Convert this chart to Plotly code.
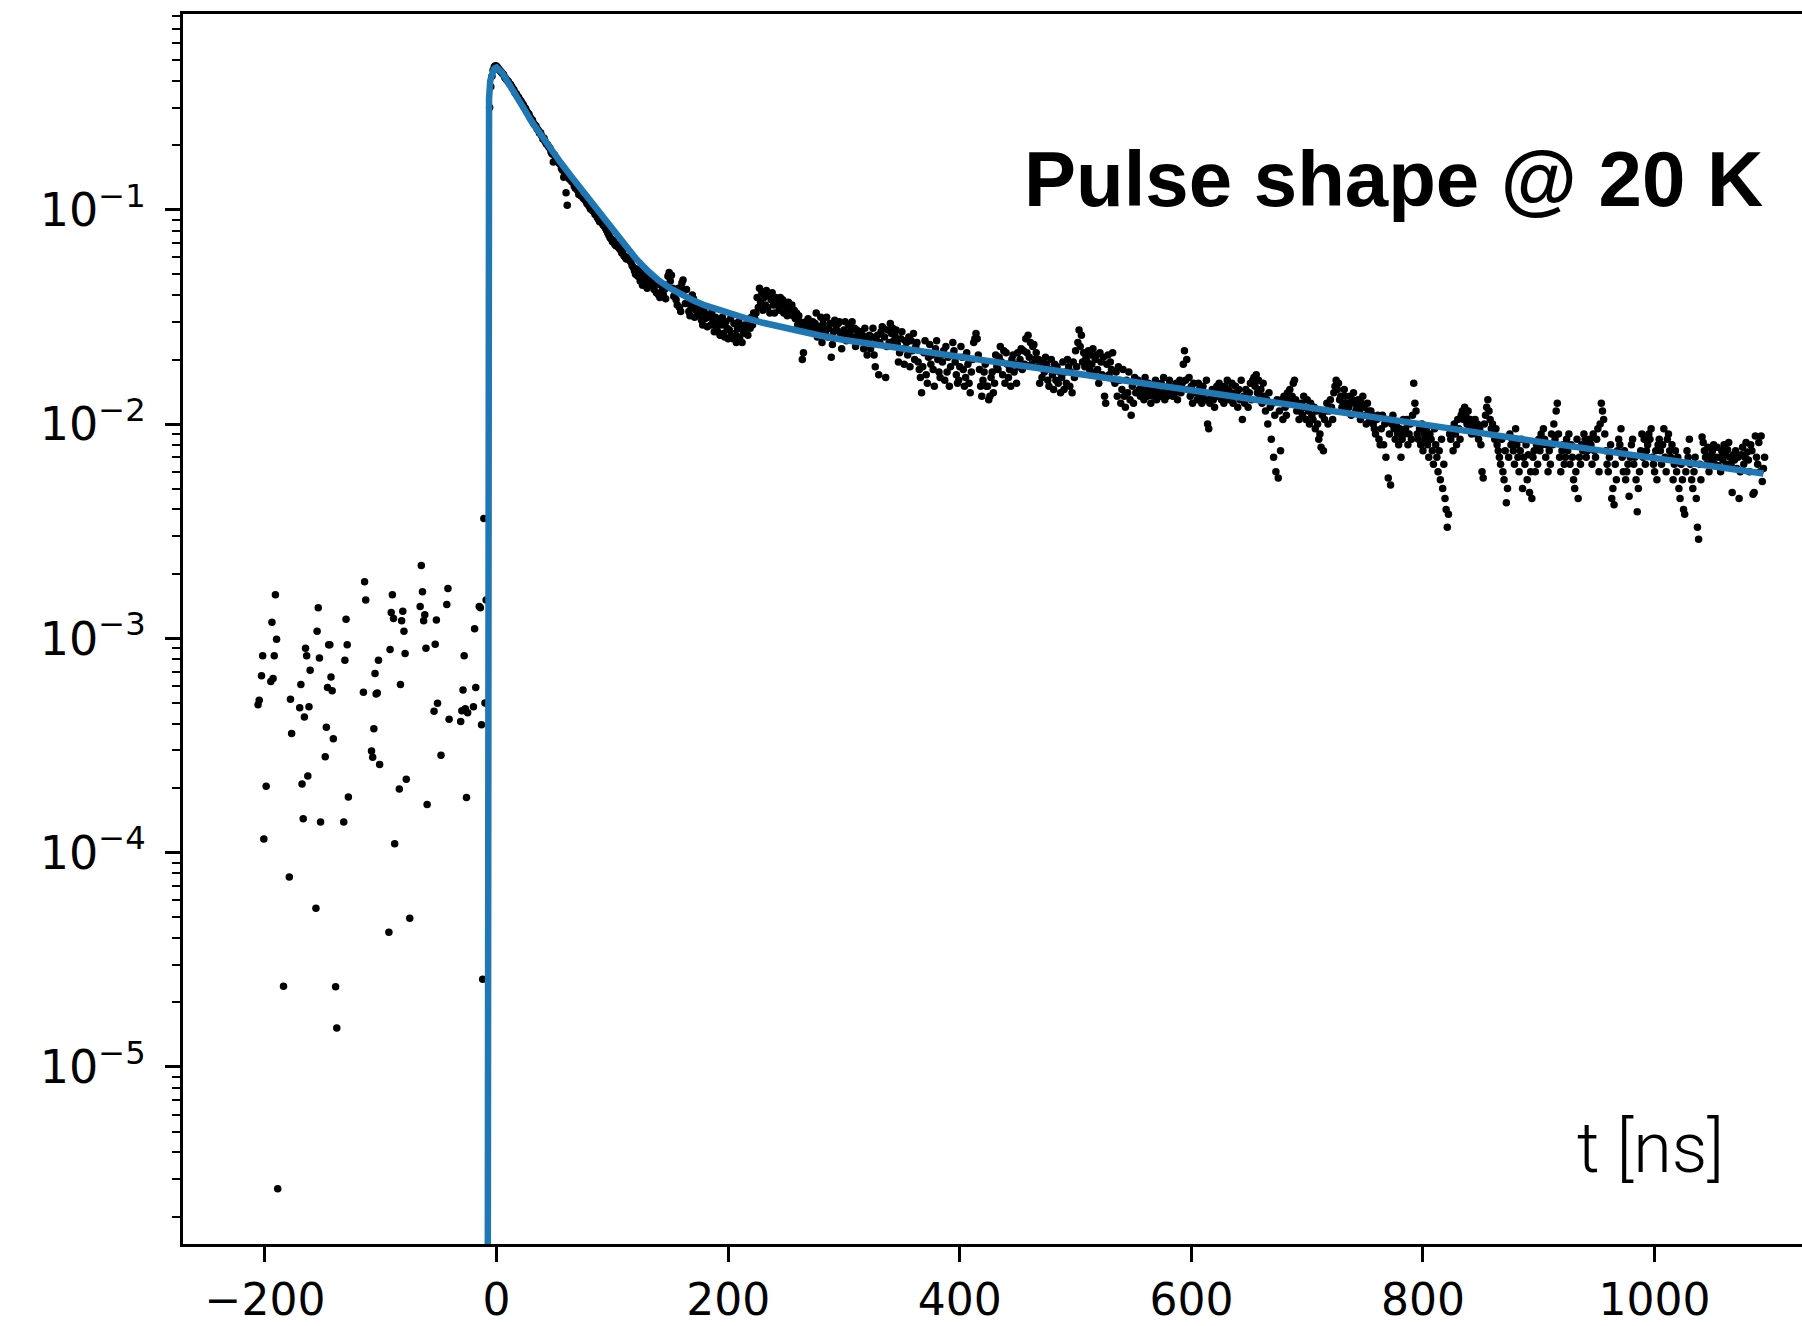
import numpy as np
import plotly.graph_objects as go

# ---------------- data ----------------
# Pre-trigger samples that are positive (visible on the log axis)
pre_t = [-206, -205, -203, -202, -201, -199, -195, -194, -193, -192, -191, -190, -189,
         -184, -179, -178, -177, -170, -169, -168, -167, -166, -165, -164, -163, -162,
         -161, -156, -155, -154, -153, -152, -148, -147, -146, -145, -144, -143, -142,
         -141, -139, -138, -132, -131, -130, -129, -128, -115, -114, -113, -108, -107,
         -106, -105, -104, -103, -102, -101, -93, -92, -91, -90, -89, -88, -84, -83,
         -82, -81, -80, -79, -78, -75, -66, -65, -64, -63, -62, -61, -60, -54, -53,
         -52, -51, -48, -43, -42, -41, -31, -30, -29, -28, -27, -26, -25, -20, -19,
         -18, -15, -14, -13, -12, -11, -10, -9]
pre_v = [4.9e-4, 5.15e-4, 6.7e-4, 8.3e-4, 1.16e-4, 2.04e-4, 6.3e-4, 1.19e-3, 6.5e-4, 8.3e-4,
         1.6e-3, 9.9e-4, 2.7e-6, 2.38e-5, 7.7e-5, 5.2e-4, 3.6e-4, 4.75e-4, 6.1e-4, 2.09e-4,
         1.44e-4, 4.3e-4, 9.0e-4, 8.3e-4, 2.28e-4, 4.8e-4, 7.1e-4, 5.5e-5, 1.08e-3, 1.39e-3,
         8.1e-4, 1.39e-4, 2.8e-4, 3.85e-4, 5.9e-4, 9.35e-4, 9.35e-4, 6.6e-4, 5.7e-4, 3.4e-4,
         2.37e-5, 1.52e-5, 1.39e-4, 7.9e-4, 1.23e-3, 9.35e-4, 1.82e-4, 5.6e-4, 1.84e-3, 1.51e-3,
         2.98e-4, 2.79e-4, 3.79e-4, 6.85e-4, 5.5e-4, 5.56e-4, 7.9e-4, 2.58e-4, 4.25e-5, 8.87e-4,
         1.32e-3, 1.6e-3, 1.24e-3, 1.10e-4, 1.98e-4, 6.1e-4, 1.21e-3, 1.34e-3, 1.08e-3, 8.5e-4,
         2.2e-4, 4.95e-5, 1.41e-3, 2.19e-3, 1.65e-3, 1.21e-3, 1.29e-3, 9.0e-4, 1.68e-4, 4.57e-4,
         9.4e-4, 1.22e-3, 4.98e-4, 2.85e-4, 1.44e-3, 1.71e-3, 4.2e-4, 4.1e-4, 4.6e-4, 5.75e-4,
         8.3e-4, 4.7e-4, 1.81e-4, 4.5e-4, 4.8e-4, 1.11e-3, 5.9e-4, 1.41e-3, 1.39e-3, 3.95e-4,
         2.57e-5, 3.63e-3, 5.0e-4, 1.51e-3]

# Post-trigger samples, 1 ns sampling starting at t = -6 ns, values in units of 1e-5
post_t0 = -6
post_dt = 1
post_v_1e5 = [
    30000, 37500, 42000, 44800, 46500, 47000, 46800, 46000, 45300, 44600,
    44000, 43200, 42800, 41500, 40900, 40200, 39800, 38900, 38400, 37600,
    36800, 36200, 35100, 34800, 33900, 33500, 32600, 32200, 31400, 30900,
    30100, 29700, 28800, 28300, 27900, 27000, 26500, 26200, 25300, 24900,
    24600, 23900, 23500, 22800, 22900, 22100, 21400, 21600, 20800, 20300,
    20100, 19700, 19400, 18600, 18200, 16700, 18000, 17400, 17100, 16900,
    16500, 16300, 15600, 15300, 14200, 14700, 12000, 10500, 14300, 13900,
    13900, 13500, 13600, 12900, 12600, 12700, 12300, 11800, 12000, 11600,
    11800, 11300, 11500, 11000, 10700, 10600, 10400, 10100, 10200, 9900,
    9800, 9500, 9600, 9200, 9000, 8800, 9100, 8700, 8500, 8400,
    8200, 8000, 7800, 7600, 7400, 7300, 7100, 7200, 6900, 6800,
    6900, 6700, 6600, 6500, 6300, 6400, 6100, 6000, 5900, 6000,
    5900, 5800, 5700, 5500, 5400, 5200, 5000, 5300, 4900, 5100,
    4650, 5150, 4450, 4900, 5300, 4600, 4300, 4800, 5000, 4500,
    4850, 4450, 4250, 4700, 4100, 4500, 4000, 3900, 4450, 4200,
    4000, 4250, 3850, 4450, 4900, 5100, 4650, 4950, 4300, 3950,
    4000, 3800, 3600, 4300, 3500, 3350, 4550, 4700, 4250, 3650,
    4250, 3650, 3350, 3200, 3550, 4000, 3850, 3150, 3400, 3600,
    3450, 3250, 3600, 3050, 2900, 3400, 3100, 3250, 2850, 3150,
    3200, 2900, 3350, 3000, 2700, 3150, 2850, 2700, 3000, 2600,
    2900, 3150, 2650, 2550, 3000, 2800, 2500, 2750, 3100, 2650,
    2500, 2950, 2650, 2400, 2800, 3000, 2550, 2800, 2400, 2700,
    2900, 2650, 2850, 2600, 3050, 2800, 3150, 2900, 3300, 3100,
    3300, 3900, 3500, 4300, 3700, 4100, 3400, 3900, 3600, 4200,
    3500, 4000, 3300, 3800, 4100, 3600, 3300, 3900, 3600, 3800,
    3400, 3900, 3600, 3800, 3300, 3700, 3500, 3200, 3700, 3400,
    3500, 3600, 3200, 3400, 3100, 3300, 2900, 3200, 3000, 2800,
    2000, 2150, 2900, 3000, 2800, 3100, 2700, 2950, 2850, 3000,
    2750, 2950, 3300, 2550, 2850, 2650, 3150, 2400, 2950, 2750,
    2700, 3150, 2550, 2800, 2950, 2050, 2350, 2700, 3050, 2900,
    2740, 2950, 3000, 2650, 2250, 2550, 2750, 3000, 2450, 2650,
    2900, 2600, 2750, 3000, 2550, 2800, 2300, 2750, 2600, 2450,
    2700, 2500, 2600, 2250, 2800, 2400, 2100, 2500, 2600, 2250,
    2550, 2800, 2100, 1850, 2450, 2600, 1700, 2400, 2700, 2850,
    2800, 2550, 1650, 2300, 2750, 2400, 2950, 2650, 2800, 2450,
    2600, 2750, 2350, 1950, 2150, 2500, 2700, 2250, 1900, 2450,
    2400, 2100, 2550, 1850, 2450, 2200, 2650, 2000, 2300, 2400,
    1950, 1800, 1650, 1400, 1850, 2150, 2450, 1700, 1550, 2050,
    2350, 1900, 2100, 1800, 1500, 2250, 2450, 2000, 1750, 1650,
    2100, 1950, 2200, 1600, 2300, 1750, 2050, 1500, 1850, 2100,
    2400, 2200, 1950, 1700, 1550, 1600, 1850, 2300, 2050, 1800,
    1500, 1650, 2150, 1900, 1550, 1400, 1750, 2000, 2400, 2500,
    2650, 2500, 2100, 1800, 1500, 1350, 1600, 1750, 1900, 1500,
    1500, 1300, 1350, 1650, 1750, 1400, 1550, 2100, 1850, 1800,
    2050, 2300, 1950, 1700, 2200, 1550, 2150, 1900, 1650, 1800,
    1500, 2000, 2100, 1750, 1900, 1550, 2150, 1850, 2000, 2250,
    1800, 2200, 1900, 2500, 2150, 2600, 2050, 2400, 1900, 2300,
    2350, 2000, 2150, 1850, 2000, 1550, 1850, 1650, 1950, 1750,
    2050, 1900, 1600, 1500, 1800, 2000, 1700, 1450, 1900, 1600,
    1850, 1550, 1750, 1400, 1650, 1950, 1450, 1750, 1550, 2000,
    1850, 1500, 1750, 1400, 1950, 1650, 2200, 1850, 2400, 2750,
    2300, 2600, 1950, 2150, 1850, 2050, 1950, 2200, 1800, 2100,
    1900, 2250, 1750, 2000, 2100, 1800, 1550, 2150, 1950, 1700,
    2050, 1350, 1250, 1900, 2100, 1700, 1950, 1800, 2150, 1600,
    1550, 1750, 1350, 1850, 1600, 1250, 1450, 1800, 1350, 1200,
    1600, 1400, 1750, 1300, 1100, 1500, 1250, 1650, 1400, 1600,
    1600, 1450, 1350, 1500, 1400, 1300, 1650, 1450, 1350, 1550,
    1400, 1250, 1500, 1350, 1450, 1600, 1300, 1400, 1500, 1350,
    1550, 1400, 1650, 1300, 1450, 1350, 1500, 1600, 1400, 1450,
    1350, 1500, 1400, 1550, 1300, 1450, 1600, 1400, 1550, 1900,
    2200, 1600, 2000, 1450, 1650, 1350, 1500, 1250, 1550, 1400,
    1400, 1300, 1550, 1450, 1350, 1250, 1500, 1400, 1300, 1600,
    1000, 950, 1250, 1350, 1450, 1300, 1200, 1400, 1500, 1350,
    1550, 1450, 1300, 1400, 1250, 1500, 1350, 1600, 1450, 1300,
    1400, 1550, 1250, 1350, 1500, 1400, 1200, 1450, 1300, 1600,
    1050, 1350, 1250, 1450, 1350, 1200, 1400, 1550, 1300, 1600,
    1650, 1500, 1700, 1400, 1600, 1350, 1450, 1250, 1550, 1350,
    1150, 1300, 1000, 1400, 1200, 850, 1250, 700, 1100, 600,
    1300, 560, 1150, 750, 1300, 1050, 1350, 1200, 1100, 1400,
    1300, 1450, 1250, 1350, 1550, 1600, 1300, 1150, 1250, 1050,
    1150, 1250, 1100, 1350, 1200, 1050, 1300, 1150, 1000, 1250,
    1100, 1050, 1200, 950, 1150, 1000, 850, 900, 780, 1100,
    750, 1050, 1150, 1250, 1000, 1150, 1300, 1200, 1050, 1400,
    1500, 1600, 1450, 1550, 1300, 1350, 1200, 1250, 1450, 1350,
    1150, 1250, 1200, 1350, 1100, 1300, 1400, 1250, 1150, 1200,
    1300, 1150, 1050, 1250, 1350, 1200, 1100, 1000, 1250, 1150,
    1050, 1150, 1100, 1000, 950, 900, 1050, 1100, 850, 800,
    950, 1100, 800, 1000, 700, 1050, 560, 900, 520, 1000,
    1100, 950, 850, 1000, 900, 800, 950, 700, 850, 1050,
    900, 950, 1050, 800, 900, 1000, 850, 1100, 1550, 1250,
    1150, 900, 850, 950, 800, 1000, 750, 900, 850, 950,
    800, 700, 900, 850, 750, 650, 950, 800, 700, 600,
    750, 550, 850, 500, 650, 450, 400, 330, 380, 900,
    850, 950, 750, 1000, 900, 800, 1050, 950, 850, 1100,
    1150, 1050, 1200, 1100, 1000, 1150, 950, 1050, 900, 1000,
    950, 1050, 900, 1000, 850, 950, 800, 600, 560, 1000,
    1100, 1200, 1300, 1150, 1050, 950, 1000, 900, 850, 950,
    800, 750, 700, 650, 850, 600, 550, 750, 430, 500,
    700, 900, 800, 850, 750, 650, 950, 800, 700, 600,
    750, 850, 500, 700, 650, 800, 550, 720, 480, 600,
    450, 700, 750, 600, 800, 650, 850, 750, 900, 800,
    950, 850, 700, 800, 600, 750, 650, 900, 800, 1000,
    850, 1150, 1250, 900, 700, 600, 750, 800, 650, 700,
    850, 750, 900, 650, 800, 700, 550, 500, 600, 850,
    450, 700, 650, 800, 750, 900, 850, 700, 750, 800,
    850, 800, 650, 900, 750, 700, 850, 950, 600, 1000,
    1250, 1150, 1050, 900, 750, 650, 600, 700, 800, 450,
    500, 420, 650, 550, 750, 850, 800, 950, 700, 600,
    750, 550, 600, 650, 460, 700, 800, 850, 650, 700,
    550, 390, 500, 600, 750, 900, 700, 850, 650, 750,
    800, 900, 850, 950, 700, 650, 600, 750, 550, 800,
    850, 750, 650, 800, 950, 700, 600, 850, 900, 750,
    700, 800, 550, 650, 750, 600, 700, 500, 450, 650,
    550, 400, 380, 600, 750, 700, 850, 650, 550, 500,
    600, 700, 450, 330, 290, 650, 550, 870, 820, 750,
    700, 650, 780, 600, 720, 680, 750, 800, 650, 700,
    780, 640, 700, 600, 750, 680, 800, 720, 650, 760,
    820, 700, 650, 480, 720, 680, 750, 620, 700, 450,
    600, 720, 780, 650, 700, 820, 740, 680, 600, 800,
    750, 470, 480, 880, 700, 650, 820, 600, 880, 540,
    620, 700,
]

fit_t = [-7.6, -7.4, -7.2, -7.0, -6.5, -5.5, -4.0, -2.5, -1.0, 0, 5, 10, 15, 20, 25, 30,
         37.5, 45, 55, 65, 72, 80, 90, 100, 110, 120, 130, 140, 150, 160, 170, 180, 190,
         200, 216, 230, 250, 279, 300, 350, 400, 450, 500, 550, 573, 600, 650, 700, 750,
         800, 850, 900, 950, 1000, 1050, 1094]
fit_v = [1.2e-6, 0.01, 0.15, 0.22, 0.33, 0.40, 0.435, 0.452, 0.46, 0.462, 0.435, 0.395,
         0.357, 0.321, 0.288, 0.259, 0.226, 0.198, 0.167, 0.142, 0.127, 0.111, 0.094,
         0.0797, 0.0685, 0.0595, 0.0522, 0.0468, 0.043, 0.0401, 0.0377, 0.0358, 0.0343,
         0.033, 0.0311, 0.0297, 0.028, 0.0259, 0.0247, 0.0225, 0.0205, 0.0188, 0.0172,
         0.0157, 0.0151, 0.0144, 0.0131, 0.0119, 0.01085, 0.0099, 0.00905, 0.00828,
         0.00758, 0.00694, 0.00636, 0.00588]

x_tickvals = [-200, 0, 200, 400, 600, 800, 1000]
x_ticktext = ["\u2212200", "0", "200", "400", "600", "800", "1000"]
y_tickvals = [1e-5, 1e-4, 1e-3, 1e-2, 1e-1]
y_ticktext = ["10<sup>\u22125</sup>", "10<sup>\u22124</sup>", "10<sup>\u22123</sup>",
              "10<sup>\u22122</sup>", "10<sup>\u22121</sup>"]
y_minor_vals = [m * 10.0 ** e for e in range(-6, 0) for m in range(2, 10)]

title_text = "Pulse shape @ 20 K"
xlabel_text = "t [ns]"

# ---------------- figure ----------------
post_t = post_t0 + post_dt * np.arange(len(post_v_1e5))
post_v = np.array(post_v_1e5) * 1e-5

fig = go.Figure()
fig.add_trace(go.Scatter(
    x=pre_t + list(post_t), y=pre_v + list(post_v),
    mode="markers", marker=dict(color="black", size=7.5, line=dict(width=0)),
    hoverinfo="skip", showlegend=False))
fig.add_trace(go.Scatter(
    x=fit_t, y=fit_v, mode="lines",
    line=dict(color="#1f77b4", width=6.5), showlegend=False))

fig.update_layout(
    width=1802, height=1326,
    margin=dict(l=183, r=0, t=14, b=82, pad=0),
    paper_bgcolor="white", plot_bgcolor="white",
    showlegend=False,
    xaxis=dict(
        range=[-270.8, 1127.3], showgrid=False, zeroline=False,
        showline=True, linecolor="black", linewidth=3.2, mirror=True,
        ticks="outside", ticklen=15, tickwidth=2.5, tickcolor="black",
        tickmode="array", tickvals=x_tickvals, ticktext=x_ticktext,
        tickfont=dict(family="DejaVu Sans", size=44, color="black")),
    yaxis=dict(
        type="log", range=[-5.826, -0.0863], showgrid=False, zeroline=False,
        showline=True, linecolor="black", linewidth=3.2, mirror=False,
        ticks="outside", ticklen=15, tickwidth=2.5, tickcolor="black",
        tickmode="array", tickvals=y_tickvals, ticktext=y_ticktext,
        tickfont=dict(family="DejaVu Sans", size=46, color="black"),
        ticklabelstandoff=10,
        minor=dict(tickmode="array", tickvals=y_minor_vals, ticks="outside",
                   ticklen=8, tickwidth=2, tickcolor="black", showgrid=False)),
    annotations=[
        dict(text="<b>" + title_text + "</b>", xref="paper", yref="paper",
             x=0.9771, y=0.8659, xanchor="right", yanchor="middle", showarrow=False,
             font=dict(family="Liberation Sans", size=78, color="black")),
        dict(text=xlabel_text, xref="paper", yref="paper",
             x=0.953, y=0.0777, xanchor="right", yanchor="middle", showarrow=False,
             font=dict(family="Roboto", size=70, color="black", weight=300)),
    ],
)

fig.write_html("out.html")
